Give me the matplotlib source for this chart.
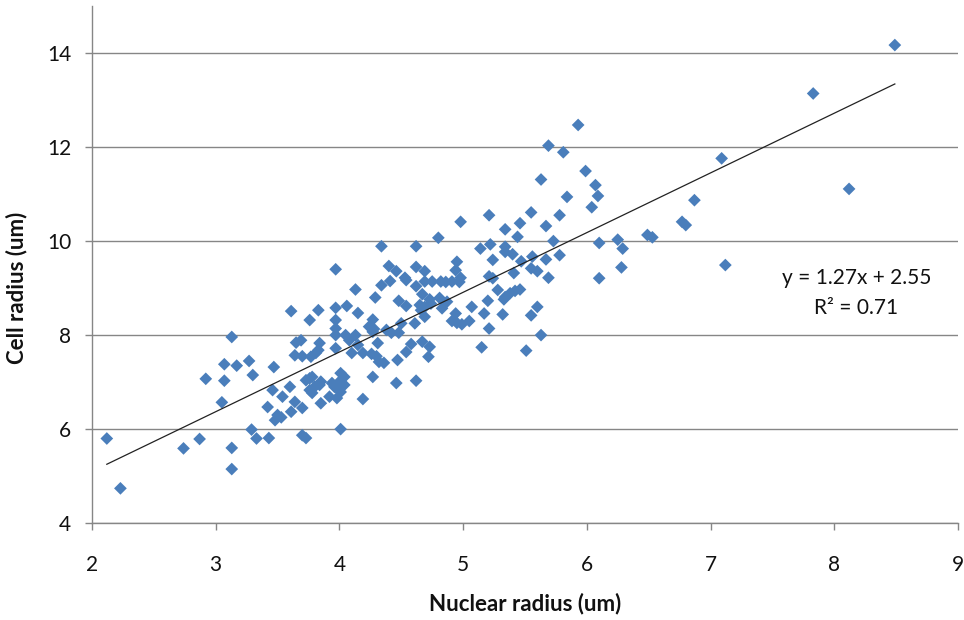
import matplotlib
matplotlib.use("Agg")
import matplotlib.pyplot as plt
import numpy as np

# Measured nucleus and cell radii (um), one entry per cell
nuclear_radius = [
    2.12, 2.23, 2.74, 2.87, 3.13, 3.07, 3.17, 3.27, 3.30, 2.92, 3.07, 3.05, 3.29, 3.33, 3.13, 3.13,
    3.65, 3.69, 3.64, 3.70, 3.77, 3.81, 3.83, 3.84, 3.97, 3.97, 4.05, 4.08, 4.13, 4.15, 4.10, 4.19,
    4.26, 4.27, 4.31, 4.30, 4.32, 4.36, 4.42, 4.47, 4.54, 4.58, 4.48, 4.62, 4.46, 4.27, 4.19, 4.01,
    4.04, 4.00, 4.04, 3.94, 3.96, 4.01, 3.98, 3.92, 3.85, 3.84, 3.80, 3.76, 3.73, 3.78, 3.76, 3.78,
    3.85, 3.70, 3.64, 3.61, 3.60, 3.54, 3.46, 3.47, 3.42, 3.50, 3.53, 3.48, 3.43, 3.70, 3.73, 4.01,
    4.34, 4.62, 3.97, 4.40, 4.46, 4.53, 4.54, 4.62, 4.62, 4.41, 4.34, 4.13, 4.29, 4.48, 4.54, 3.61,
    3.76, 3.83, 3.97, 4.06, 4.15, 3.97, 4.27, 4.24, 4.28, 3.97, 4.38, 4.61, 4.50,
    5.21, 4.98, 5.55, 5.78, 5.46, 5.67, 5.34, 5.44, 4.80, 5.14, 5.22, 5.34, 5.34, 5.40, 5.73, 5.56,
    5.67, 5.78, 5.47, 5.24, 5.55, 5.60, 5.69, 5.41, 4.95, 4.94, 4.98, 5.21, 5.24, 4.69, 4.69, 4.75,
    4.82, 4.86, 4.91, 4.97, 5.28, 5.34, 5.38, 5.42, 5.46, 5.33, 4.67, 4.73, 4.81, 4.65, 4.69, 4.74,
    4.87, 4.83, 4.66, 4.69, 5.07, 5.20, 5.17, 4.94, 4.91, 4.95, 4.99, 5.05, 5.32, 5.60, 5.55, 5.21,
    5.63, 4.67, 4.73, 4.72, 5.15, 5.51,
    5.93, 5.69, 5.81, 5.99, 5.63, 6.07, 6.09, 5.84, 6.04, 7.09, 6.87, 6.77, 6.80, 6.49, 6.53, 6.25,
    6.10, 6.29, 6.28, 6.10, 7.12, 8.49, 7.83, 8.12,
]
cell_radius = [
    5.79, 4.73, 5.58, 5.78, 7.95, 7.37, 7.34, 7.44, 7.14, 7.06, 7.02, 6.56, 5.98, 5.79, 5.59, 5.14,
    7.83, 7.88, 7.56, 7.54, 7.53, 7.61, 7.67, 7.82, 7.71, 7.99, 7.99, 7.88, 7.99, 7.78, 7.61, 7.61,
    7.59, 8.06, 7.82, 7.54, 7.42, 7.40, 8.04, 7.46, 7.63, 7.80, 8.04, 7.02, 6.97, 7.10, 6.63, 7.18,
    7.10, 7.00, 6.93, 6.97, 6.89, 6.78, 6.65, 6.68, 7.00, 6.93, 6.89, 7.07, 7.03, 7.10, 6.82, 6.76,
    6.54, 6.44, 6.57, 6.36, 6.89, 6.68, 6.82, 7.31, 6.46, 6.29, 6.24, 6.18, 5.80, 5.86, 5.80, 5.99,
    9.88, 9.88, 9.39, 9.46, 9.35, 9.21, 9.16, 9.44, 9.03, 9.14, 9.05, 8.96, 8.79, 8.72, 8.61, 8.50,
    8.31, 8.52, 8.57, 8.61, 8.46, 8.31, 8.32, 8.17, 8.12, 8.13, 8.10, 8.24, 8.24,
    10.54, 10.40, 10.60, 10.54, 10.37, 10.31, 10.24, 10.08, 10.06, 9.83, 9.92, 9.87, 9.76, 9.71, 9.99, 9.66,
    9.60, 9.69, 9.56, 9.59, 9.41, 9.35, 9.21, 9.31, 9.55, 9.37, 9.21, 9.24, 9.20, 9.35, 9.13, 9.13,
    9.13, 9.12, 9.13, 9.12, 8.95, 8.80, 8.88, 8.93, 8.96, 8.75, 8.86, 8.75, 8.78, 8.63, 8.59, 8.66,
    8.70, 8.56, 8.52, 8.38, 8.59, 8.72, 8.45, 8.45, 8.29, 8.25, 8.22, 8.29, 8.43, 8.59, 8.41, 8.13,
    7.99, 7.85, 7.74, 7.53, 7.73, 7.66,
    12.46, 12.02, 11.88, 11.48, 11.30, 11.18, 10.95, 10.93, 10.71, 11.75, 10.86, 10.40, 10.33, 10.12, 10.07, 10.02,
    9.95, 9.83, 9.43, 9.20, 9.48, 14.16, 13.13, 11.10,
]

# Linear trend reported on the chart
slope = 1.27
intercept = 2.55
r_squared = 0.71

x_ticks = [2, 3, 4, 5, 6, 7, 8, 9]
y_ticks = [4, 6, 8, 10, 12, 14]

plt.rcParams["font.family"] = ["Lato", "DejaVu Sans"]

fig = plt.figure(figsize=(9.64, 6.20), dpi=100)
ax = fig.add_axes([0.0954, 0.157, 0.8983, 0.834])

axis_grey = "#868686"
marker_blue = "#4A7EBB"

ax.scatter(nuclear_radius, cell_radius, marker="D", s=42, color=marker_blue,
           edgecolors="none", zorder=3)

x_fit = np.array([min(nuclear_radius), max(nuclear_radius)])
ax.plot(x_fit, slope * x_fit + intercept, color="#222222", linewidth=0.9, zorder=4)

ax.text(8.18, 9.20, f"y = {slope:.2f}x + {intercept:.2f}", ha="center", va="center",
        fontsize=15, color="#111111")
ax.text(8.18, 8.56, f"R² = {r_squared:.2f}", ha="center", va="center",
        fontsize=15, color="#111111")

ax.set_xlim(2, 9)
ax.set_ylim(4, 15)
ax.set_xticks(x_ticks)
ax.set_yticks(y_ticks)
ax.set_xticklabels([str(v) for v in x_ticks])
ax.set_yticklabels([str(v) for v in y_ticks])

ax.yaxis.grid(True, color=axis_grey, linewidth=1.0)
ax.xaxis.grid(False)
ax.set_axisbelow(True)

for side in ("top", "right"):
    ax.spines[side].set_visible(False)
for side in ("left", "bottom"):
    ax.spines[side].set_color(axis_grey)
    ax.spines[side].set_linewidth(1.0)

ax.tick_params(axis="x", direction="out", length=5, width=1, color=axis_grey,
               labelsize=15, pad=18, labelcolor="#111111")
ax.tick_params(axis="y", direction="out", length=5, width=1, color=axis_grey,
               labelsize=15, pad=10, labelcolor="#111111")

ax.set_xlabel("Nuclear radius (um)", fontsize=16, fontweight="bold", color="#111111")
ax.set_ylabel("Cell radius (um)", fontsize=16, fontweight="bold", color="#111111")
ax.xaxis.set_label_coords(0.5, -0.135)
ax.yaxis.set_label_coords(-0.075, 0.455)

fig.savefig("out.png", dpi=100, facecolor="white")
